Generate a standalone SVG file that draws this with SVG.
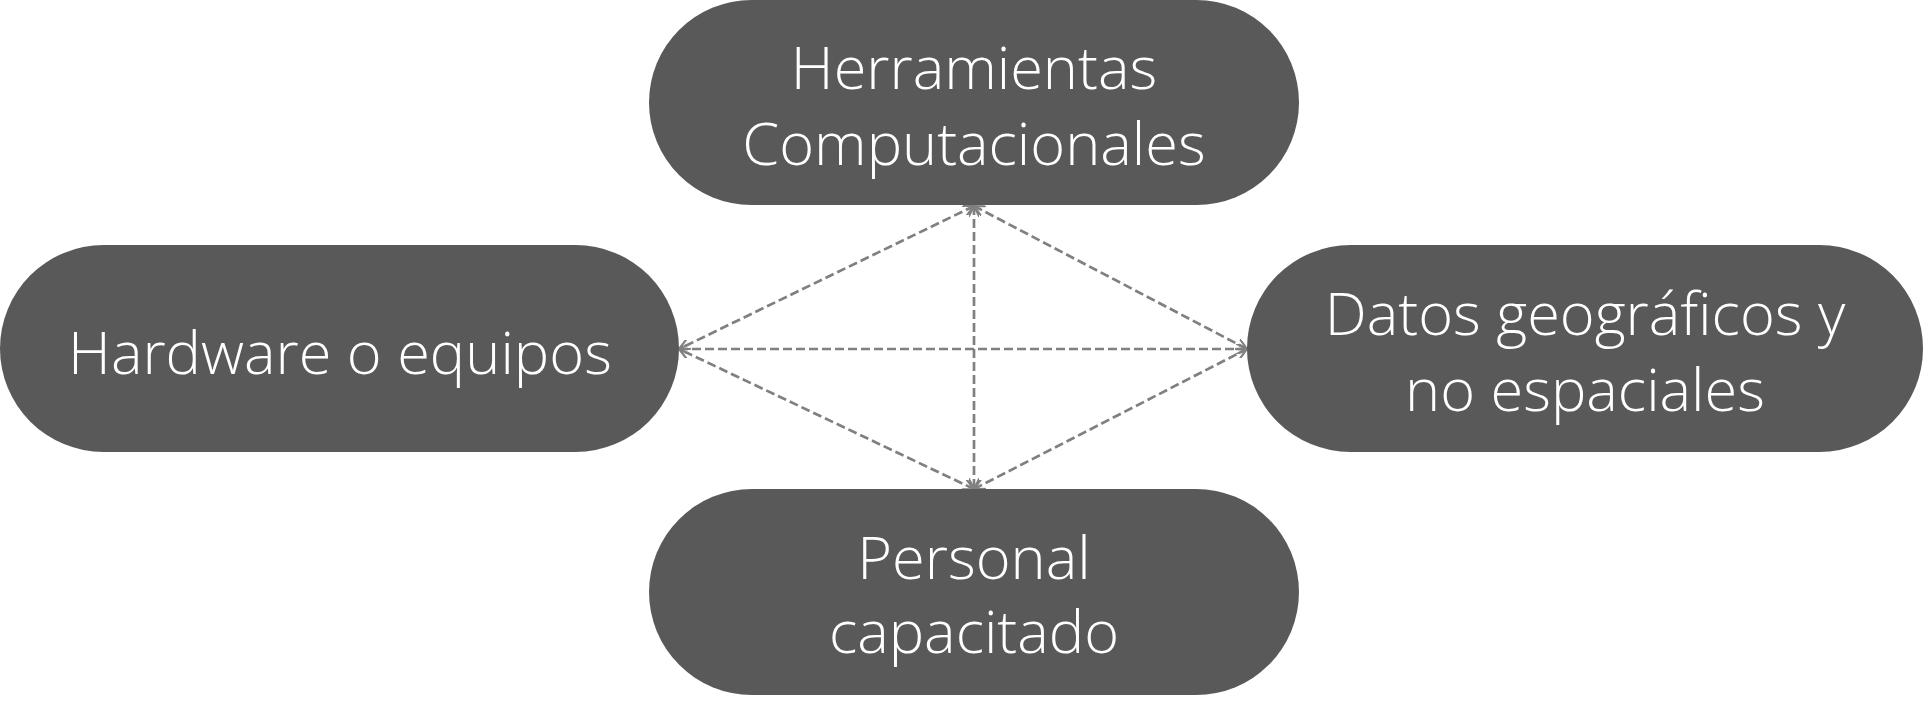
<svg xmlns="http://www.w3.org/2000/svg" width="1923" height="709" viewBox="0 0 1923 709">
<style>
.node{fill:#595959;}
.lbl{fill:#ffffff;font-family:"Open Sans","Noto Sans","Liberation Sans",sans-serif;font-weight:300;font-size:59.5px;text-anchor:middle;}
.con{stroke:#808080;stroke-width:2.7;stroke-dasharray:9 4;fill:none;marker-start:url(#ah);marker-end:url(#ah);}
</style>
<defs>
<marker id="ah" viewBox="0 0 10 10" refX="10" refY="5" markerWidth="4" markerHeight="4" orient="auto-start-reverse" markerUnits="strokeWidth">
<path d="M0,0 L10,5 L0,10" fill="none" stroke="#808080" stroke-width="2"/>
</marker>
</defs>
<g id="connectors">
<line class="con" x1="974" y1="206" x2="679" y2="349"/>
<line class="con" x1="974" y1="206" x2="1247" y2="349"/>
<line class="con" x1="974" y1="489" x2="679" y2="349"/>
<line class="con" x1="974" y1="489" x2="1247" y2="349"/>
<line class="con" x1="974" y1="206" x2="974" y2="489"/>
<line class="con" x1="679" y1="349" x2="1247" y2="349"/>
</g>
<g id="node-herramientas">
<rect class="node" x="649" y="0" width="650" height="205" rx="102.5"/>
<text class="lbl" x="974" y="89">Herramientas</text>
<text class="lbl" x="974" y="165">Computacionales</text>
</g>
<g id="node-hardware">
<rect class="node" x="0" y="245" width="679" height="207" rx="103.5"/>
<text class="lbl" x="340" y="374">Hardware o equipos</text>
</g>
<g id="node-datos">
<rect class="node" x="1247" y="245" width="676" height="207" rx="103.5"/>
<text class="lbl" x="1585" y="335">Datos geográficos y</text>
<text class="lbl" x="1585" y="411">no espaciales</text>
</g>
<g id="node-personal">
<rect class="node" x="649" y="489" width="650" height="206" rx="103"/>
<text class="lbl" x="974" y="579">Personal</text>
<text class="lbl" x="974" y="653">capacitado</text>
</g>
</svg>
